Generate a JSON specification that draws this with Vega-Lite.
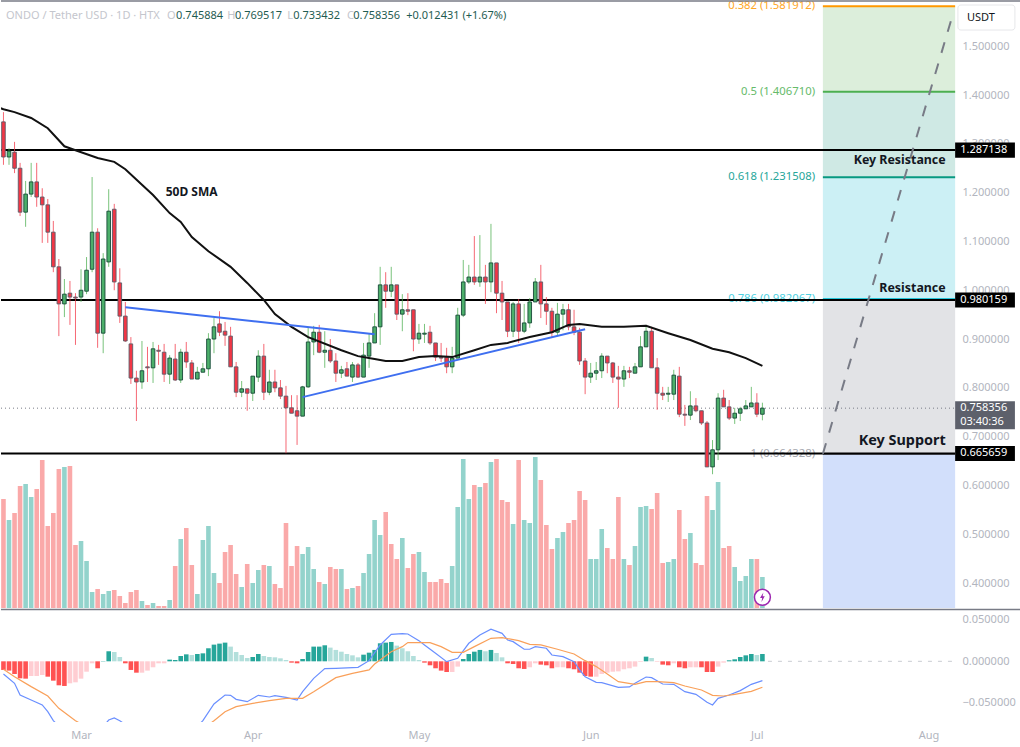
{
  "$schema": "https://vega.github.io/schema/vega-lite/v6.json",
  "background": "white",
  "padding": 0,
  "spacing": 0,
  "resolve": {"scale": {"color": "independent", "stroke": "independent"}},
  "datasets": {
    "days": [
      {"d":"2025-02-15","o":1.345,"h":1.365,"l":1.257,"c":1.273,"dir":"down","v":109,"vd":"down","m":-0.0104,"mc":"d1"},
      {"d":"2025-02-16","o":1.273,"h":1.291,"l":1.257,"c":1.285,"dir":"up","v":88,"vd":"up","m":-0.0112,"mc":"d1"},
      {"d":"2025-02-17","o":1.283,"h":1.304,"l":1.240,"c":1.250,"dir":"down","v":95,"vd":"down","m":-0.0153,"mc":"d1"},
      {"d":"2025-02-18","o":1.250,"h":1.261,"l":1.152,"c":1.160,"dir":"down","v":122,"vd":"down","m":-0.0205,"mc":"d1"},
      {"d":"2025-02-19","o":1.160,"h":1.224,"l":1.130,"c":1.197,"dir":"up","v":124,"vd":"up","m":-0.0209,"mc":"d1"},
      {"d":"2025-02-20","o":1.197,"h":1.261,"l":1.191,"c":1.222,"dir":"up","v":111,"vd":"up","m":-0.0177,"mc":"d2"},
      {"d":"2025-02-21","o":1.222,"h":1.261,"l":1.171,"c":1.191,"dir":"down","v":119,"vd":"down","m":-0.0177,"mc":"d2"},
      {"d":"2025-02-22","o":1.191,"h":1.209,"l":1.097,"c":1.175,"dir":"down","v":148,"vd":"down","m":-0.0165,"mc":"d2"},
      {"d":"2025-02-23","o":1.175,"h":1.187,"l":1.097,"c":1.119,"dir":"down","v":82,"vd":"down","m":-0.0185,"mc":"d1"},
      {"d":"2025-02-24","o":1.119,"h":1.142,"l":1.037,"c":1.048,"dir":"down","v":95,"vd":"down","m":-0.0233,"mc":"d1"},
      {"d":"2025-02-25","o":1.048,"h":1.064,"l":0.906,"c":0.972,"dir":"down","v":139,"vd":"down","m":-0.0289,"mc":"d1"},
      {"d":"2025-02-26","o":0.972,"h":1.023,"l":0.945,"c":0.992,"dir":"up","v":141,"vd":"up","m":-0.0297,"mc":"d1"},
      {"d":"2025-02-27","o":0.994,"h":1.019,"l":0.929,"c":0.986,"dir":"down","v":142,"vd":"down","m":-0.0265,"mc":"d2"},
      {"d":"2025-02-28","o":0.986,"h":0.994,"l":0.888,"c":0.984,"dir":"down","v":63,"vd":"down","m":-0.0253,"mc":"d2"},
      {"d":"2025-03-01","o":0.986,"h":1.043,"l":0.976,"c":1.000,"dir":"up","v":67,"vd":"up","m":-0.0209,"mc":"d2"},
      {"d":"2025-03-02","o":0.998,"h":1.068,"l":0.992,"c":1.041,"dir":"up","v":47,"vd":"up","m":-0.0125,"mc":"d2"},
      {"d":"2025-03-03","o":1.043,"h":1.232,"l":1.037,"c":1.119,"dir":"up","v":16,"vd":"up","m":-0.0024,"mc":"d2"},
      {"d":"2025-03-04","o":1.119,"h":1.127,"l":0.882,"c":0.912,"dir":"down","v":19,"vd":"down","m":-0.0084,"mc":"d1"},
      {"d":"2025-03-05","o":0.912,"h":1.076,"l":0.871,"c":1.064,"dir":"up","v":14,"vd":"up","m":0.0004,"mc":"u1"},
      {"d":"2025-03-06","o":1.058,"h":1.207,"l":1.048,"c":1.162,"dir":"up","v":17,"vd":"up","m":0.0121,"mc":"u1"},
      {"d":"2025-03-07","o":1.166,"h":1.177,"l":1.000,"c":1.017,"dir":"down","v":18,"vd":"down","m":0.0112,"mc":"u2"},
      {"d":"2025-03-08","o":1.015,"h":1.045,"l":0.933,"c":0.947,"dir":"down","v":12,"vd":"down","m":0.0052,"mc":"u2"},
      {"d":"2025-03-09","o":0.947,"h":0.976,"l":0.894,"c":0.896,"dir":"down","v":5,"vd":"down","m":-0.0024,"mc":"d1"},
      {"d":"2025-03-10","o":0.890,"h":0.904,"l":0.808,"c":0.820,"dir":"down","v":16,"vd":"down","m":-0.0104,"mc":"d1"},
      {"d":"2025-03-11","o":0.820,"h":0.835,"l":0.732,"c":0.812,"dir":"down","v":18,"vd":"down","m":-0.0137,"mc":"d1"},
      {"d":"2025-03-12","o":0.812,"h":0.896,"l":0.798,"c":0.835,"dir":"up","v":7,"vd":"up","m":-0.0137,"mc":"d2"},
      {"d":"2025-03-13","o":0.843,"h":0.884,"l":0.812,"c":0.841,"dir":"down","v":3,"vd":"down","m":-0.0112,"mc":"d2"},
      {"d":"2025-03-14","o":0.841,"h":0.894,"l":0.810,"c":0.880,"dir":"up","v":5,"vd":"up","m":-0.0072,"mc":"d2"},
      {"d":"2025-03-15","o":0.877,"h":0.888,"l":0.847,"c":0.875,"dir":"down","v":2,"vd":"down","m":-0.0024,"mc":"d2"},
      {"d":"2025-03-16","o":0.873,"h":0.890,"l":0.812,"c":0.828,"dir":"down","v":2,"vd":"down","m":-0.0024,"mc":"d2"},
      {"d":"2025-03-17","o":0.828,"h":0.867,"l":0.808,"c":0.861,"dir":"up","v":8,"vd":"up","m":0.0020,"mc":"u1"},
      {"d":"2025-03-18","o":0.859,"h":0.890,"l":0.814,"c":0.816,"dir":"down","v":42,"vd":"down","m":0.0016,"mc":"u1"},
      {"d":"2025-03-19","o":0.816,"h":0.880,"l":0.810,"c":0.873,"dir":"up","v":69,"vd":"up","m":0.0064,"mc":"u1"},
      {"d":"2025-03-20","o":0.873,"h":0.894,"l":0.841,"c":0.853,"dir":"down","v":80,"vd":"down","m":0.0084,"mc":"u1"},
      {"d":"2025-03-21","o":0.851,"h":0.857,"l":0.818,"c":0.818,"dir":"down","v":43,"vd":"down","m":0.0076,"mc":"u2"},
      {"d":"2025-03-22","o":0.818,"h":0.843,"l":0.818,"c":0.832,"dir":"up","v":14,"vd":"up","m":0.0088,"mc":"u1"},
      {"d":"2025-03-23","o":0.832,"h":0.851,"l":0.832,"c":0.839,"dir":"up","v":68,"vd":"up","m":0.0096,"mc":"u1"},
      {"d":"2025-03-24","o":0.839,"h":0.912,"l":0.824,"c":0.900,"dir":"up","v":82,"vd":"up","m":0.0157,"mc":"u1"},
      {"d":"2025-03-25","o":0.900,"h":0.943,"l":0.871,"c":0.925,"dir":"up","v":35,"vd":"up","m":0.0201,"mc":"u1"},
      {"d":"2025-03-26","o":0.931,"h":0.957,"l":0.906,"c":0.914,"dir":"down","v":25,"vd":"down","m":0.0213,"mc":"u1"},
      {"d":"2025-03-27","o":0.916,"h":0.935,"l":0.886,"c":0.908,"dir":"down","v":56,"vd":"down","m":0.0225,"mc":"u1"},
      {"d":"2025-03-28","o":0.906,"h":0.925,"l":0.843,"c":0.843,"dir":"down","v":63,"vd":"down","m":0.0177,"mc":"u2"},
      {"d":"2025-03-29","o":0.843,"h":0.853,"l":0.781,"c":0.791,"dir":"down","v":34,"vd":"down","m":0.0112,"mc":"u2"},
      {"d":"2025-03-30","o":0.791,"h":0.814,"l":0.781,"c":0.798,"dir":"up","v":21,"vd":"up","m":0.0076,"mc":"u2"},
      {"d":"2025-03-31","o":0.798,"h":0.798,"l":0.753,"c":0.789,"dir":"down","v":44,"vd":"down","m":0.0040,"mc":"u2"},
      {"d":"2025-04-01","o":0.789,"h":0.824,"l":0.773,"c":0.824,"dir":"up","v":25,"vd":"up","m":0.0052,"mc":"u1"},
      {"d":"2025-04-02","o":0.822,"h":0.877,"l":0.812,"c":0.865,"dir":"up","v":38,"vd":"up","m":0.0088,"mc":"u1"},
      {"d":"2025-04-03","o":0.865,"h":0.890,"l":0.775,"c":0.791,"dir":"down","v":43,"vd":"down","m":0.0064,"mc":"u2"},
      {"d":"2025-04-04","o":0.791,"h":0.837,"l":0.785,"c":0.812,"dir":"up","v":42,"vd":"up","m":0.0052,"mc":"u2"},
      {"d":"2025-04-05","o":0.812,"h":0.837,"l":0.791,"c":0.800,"dir":"down","v":24,"vd":"down","m":0.0048,"mc":"u2"},
      {"d":"2025-04-06","o":0.800,"h":0.816,"l":0.777,"c":0.783,"dir":"down","v":20,"vd":"down","m":0.0036,"mc":"u2"},
      {"d":"2025-04-07","o":0.783,"h":0.804,"l":0.666,"c":0.759,"dir":"down","v":85,"vd":"down","m":0.0016,"mc":"u2"},
      {"d":"2025-04-08","o":0.759,"h":0.785,"l":0.748,"c":0.748,"dir":"down","v":42,"vd":"down","m":-0.0016,"mc":"d1"},
      {"d":"2025-04-09","o":0.753,"h":0.785,"l":0.683,"c":0.742,"dir":"down","v":62,"vd":"down","m":-0.0024,"mc":"d1"},
      {"d":"2025-04-10","o":0.742,"h":0.804,"l":0.742,"c":0.802,"dir":"up","v":54,"vd":"up","m":0.0028,"mc":"u1"},
      {"d":"2025-04-11","o":0.802,"h":0.923,"l":0.800,"c":0.894,"dir":"up","v":61,"vd":"up","m":0.0112,"mc":"u1"},
      {"d":"2025-04-12","o":0.894,"h":0.927,"l":0.867,"c":0.914,"dir":"up","v":39,"vd":"up","m":0.0177,"mc":"u1"},
      {"d":"2025-04-13","o":0.914,"h":0.929,"l":0.871,"c":0.873,"dir":"down","v":26,"vd":"down","m":0.0177,"mc":"u1"},
      {"d":"2025-04-14","o":0.873,"h":0.916,"l":0.841,"c":0.877,"dir":"up","v":24,"vd":"up","m":0.0193,"mc":"u1"},
      {"d":"2025-04-15","o":0.877,"h":0.900,"l":0.851,"c":0.855,"dir":"down","v":41,"vd":"down","m":0.0165,"mc":"u2"},
      {"d":"2025-04-16","o":0.855,"h":0.871,"l":0.812,"c":0.830,"dir":"down","v":39,"vd":"down","m":0.0137,"mc":"u2"},
      {"d":"2025-04-17","o":0.830,"h":0.845,"l":0.820,"c":0.837,"dir":"up","v":39,"vd":"up","m":0.0116,"mc":"u2"},
      {"d":"2025-04-18","o":0.839,"h":0.853,"l":0.824,"c":0.824,"dir":"down","v":19,"vd":"down","m":0.0088,"mc":"u2"},
      {"d":"2025-04-19","o":0.822,"h":0.853,"l":0.812,"c":0.847,"dir":"up","v":20,"vd":"up","m":0.0072,"mc":"u2"},
      {"d":"2025-04-20","o":0.847,"h":0.851,"l":0.820,"c":0.822,"dir":"down","v":22,"vd":"down","m":0.0048,"mc":"u2"},
      {"d":"2025-04-21","o":0.822,"h":0.892,"l":0.822,"c":0.867,"dir":"up","v":35,"vd":"up","m":0.0080,"mc":"u1"},
      {"d":"2025-04-22","o":0.865,"h":0.912,"l":0.841,"c":0.892,"dir":"up","v":54,"vd":"up","m":0.0104,"mc":"u1"},
      {"d":"2025-04-23","o":0.892,"h":0.953,"l":0.892,"c":0.925,"dir":"up","v":88,"vd":"up","m":0.0137,"mc":"u1"},
      {"d":"2025-04-24","o":0.925,"h":1.048,"l":0.888,"c":1.011,"dir":"up","v":73,"vd":"up","m":0.0217,"mc":"u1"},
      {"d":"2025-04-25","o":1.011,"h":1.037,"l":0.964,"c":0.998,"dir":"down","v":96,"vd":"down","m":0.0225,"mc":"u1"},
      {"d":"2025-04-26","o":0.998,"h":1.048,"l":0.986,"c":1.011,"dir":"up","v":64,"vd":"down","m":0.0233,"mc":"u1"},
      {"d":"2025-04-27","o":1.011,"h":1.011,"l":0.939,"c":0.951,"dir":"down","v":49,"vd":"down","m":0.0189,"mc":"u2"},
      {"d":"2025-04-28","o":0.951,"h":0.992,"l":0.916,"c":0.960,"dir":"up","v":70,"vd":"up","m":0.0157,"mc":"u2"},
      {"d":"2025-04-29","o":0.960,"h":0.994,"l":0.949,"c":0.957,"dir":"down","v":40,"vd":"down","m":0.0121,"mc":"u2"},
      {"d":"2025-04-30","o":0.960,"h":0.960,"l":0.875,"c":0.900,"dir":"down","v":54,"vd":"down","m":0.0064,"mc":"u2"},
      {"d":"2025-05-01","o":0.900,"h":0.931,"l":0.890,"c":0.912,"dir":"up","v":56,"vd":"up","m":0.0016,"mc":"u2"},
      {"d":"2025-05-02","o":0.910,"h":0.931,"l":0.892,"c":0.912,"dir":"up","v":36,"vd":"up","m":-0.0016,"mc":"d1"},
      {"d":"2025-05-03","o":0.914,"h":0.927,"l":0.888,"c":0.892,"dir":"down","v":26,"vd":"down","m":-0.0048,"mc":"d1"},
      {"d":"2025-05-04","o":0.892,"h":0.892,"l":0.855,"c":0.863,"dir":"down","v":26,"vd":"down","m":-0.0084,"mc":"d1"},
      {"d":"2025-05-05","o":0.863,"h":0.892,"l":0.853,"c":0.861,"dir":"down","v":29,"vd":"down","m":-0.0112,"mc":"d1"},
      {"d":"2025-05-06","o":0.863,"h":0.882,"l":0.830,"c":0.843,"dir":"down","v":25,"vd":"down","m":-0.0129,"mc":"d1"},
      {"d":"2025-05-07","o":0.843,"h":0.884,"l":0.830,"c":0.861,"dir":"up","v":42,"vd":"up","m":-0.0129,"mc":"d2"},
      {"d":"2025-05-08","o":0.861,"h":0.964,"l":0.861,"c":0.949,"dir":"up","v":101,"vd":"up","m":-0.0064,"mc":"d2"},
      {"d":"2025-05-09","o":0.949,"h":1.062,"l":0.945,"c":1.017,"dir":"up","v":149,"vd":"up","m":0.0028,"mc":"u1"},
      {"d":"2025-05-10","o":1.017,"h":1.052,"l":1.013,"c":1.027,"dir":"up","v":109,"vd":"up","m":0.0088,"mc":"u1"},
      {"d":"2025-05-11","o":1.027,"h":1.111,"l":1.011,"c":1.017,"dir":"down","v":123,"vd":"down","m":0.0116,"mc":"u1"},
      {"d":"2025-05-12","o":1.017,"h":1.113,"l":1.007,"c":1.027,"dir":"up","v":121,"vd":"up","m":0.0137,"mc":"u1"},
      {"d":"2025-05-13","o":1.027,"h":1.052,"l":0.972,"c":1.017,"dir":"down","v":125,"vd":"down","m":0.0121,"mc":"u2"},
      {"d":"2025-05-14","o":1.017,"h":1.136,"l":0.996,"c":1.056,"dir":"up","v":146,"vd":"up","m":0.0137,"mc":"u1"},
      {"d":"2025-05-15","o":1.056,"h":1.056,"l":0.953,"c":0.994,"dir":"down","v":149,"vd":"down","m":0.0100,"mc":"u2"},
      {"d":"2025-05-16","o":0.994,"h":1.019,"l":0.939,"c":0.976,"dir":"down","v":108,"vd":"down","m":0.0048,"mc":"u2"},
      {"d":"2025-05-17","o":0.976,"h":0.976,"l":0.904,"c":0.916,"dir":"down","v":106,"vd":"down","m":-0.0024,"mc":"d1"},
      {"d":"2025-05-18","o":0.916,"h":0.976,"l":0.904,"c":0.972,"dir":"up","v":84,"vd":"up","m":-0.0032,"mc":"d1"},
      {"d":"2025-05-19","o":0.972,"h":0.982,"l":0.892,"c":0.916,"dir":"down","v":148,"vd":"down","m":-0.0084,"mc":"d1"},
      {"d":"2025-05-20","o":0.916,"h":0.972,"l":0.912,"c":0.933,"dir":"up","v":88,"vd":"up","m":-0.0092,"mc":"d1"},
      {"d":"2025-05-21","o":0.933,"h":0.984,"l":0.923,"c":0.976,"dir":"up","v":85,"vd":"up","m":-0.0072,"mc":"d2"},
      {"d":"2025-05-22","o":0.976,"h":1.025,"l":0.976,"c":1.017,"dir":"up","v":151,"vd":"up","m":-0.0024,"mc":"d2"},
      {"d":"2025-05-23","o":1.017,"h":1.052,"l":0.943,"c":0.972,"dir":"down","v":128,"vd":"down","m":-0.0040,"mc":"d1"},
      {"d":"2025-05-24","o":0.972,"h":0.986,"l":0.929,"c":0.957,"dir":"down","v":83,"vd":"down","m":-0.0048,"mc":"d1"},
      {"d":"2025-05-25","o":0.957,"h":0.964,"l":0.902,"c":0.914,"dir":"down","v":59,"vd":"down","m":-0.0084,"mc":"d1"},
      {"d":"2025-05-26","o":0.914,"h":0.974,"l":0.908,"c":0.951,"dir":"up","v":70,"vd":"up","m":-0.0072,"mc":"d2"},
      {"d":"2025-05-27","o":0.951,"h":0.972,"l":0.918,"c":0.960,"dir":"up","v":76,"vd":"up","m":-0.0072,"mc":"d2"},
      {"d":"2025-05-28","o":0.960,"h":0.972,"l":0.918,"c":0.925,"dir":"down","v":85,"vd":"down","m":-0.0084,"mc":"d1"},
      {"d":"2025-05-29","o":0.925,"h":0.960,"l":0.908,"c":0.914,"dir":"down","v":88,"vd":"down","m":-0.0096,"mc":"d1"},
      {"d":"2025-05-30","o":0.914,"h":0.923,"l":0.847,"c":0.855,"dir":"down","v":117,"vd":"down","m":-0.0137,"mc":"d1"},
      {"d":"2025-05-31","o":0.855,"h":0.861,"l":0.787,"c":0.822,"dir":"down","v":108,"vd":"down","m":-0.0177,"mc":"d1"},
      {"d":"2025-06-01","o":0.822,"h":0.851,"l":0.810,"c":0.830,"dir":"up","v":49,"vd":"up","m":-0.0185,"mc":"d1"},
      {"d":"2025-06-02","o":0.830,"h":0.853,"l":0.816,"c":0.835,"dir":"up","v":49,"vd":"up","m":-0.0185,"mc":"d2"},
      {"d":"2025-06-03","o":0.835,"h":0.871,"l":0.820,"c":0.865,"dir":"up","v":79,"vd":"up","m":-0.0153,"mc":"d2"},
      {"d":"2025-06-04","o":0.865,"h":0.865,"l":0.830,"c":0.851,"dir":"down","v":60,"vd":"down","m":-0.0137,"mc":"d2"},
      {"d":"2025-06-05","o":0.851,"h":0.853,"l":0.810,"c":0.822,"dir":"down","v":49,"vd":"down","m":-0.0125,"mc":"d2"},
      {"d":"2025-06-06","o":0.822,"h":0.845,"l":0.759,"c":0.818,"dir":"down","v":111,"vd":"down","m":-0.0121,"mc":"d2"},
      {"d":"2025-06-07","o":0.818,"h":0.845,"l":0.802,"c":0.835,"dir":"up","v":49,"vd":"up","m":-0.0096,"mc":"d2"},
      {"d":"2025-06-08","o":0.835,"h":0.843,"l":0.820,"c":0.832,"dir":"down","v":43,"vd":"down","m":-0.0084,"mc":"d2"},
      {"d":"2025-06-09","o":0.830,"h":0.851,"l":0.830,"c":0.843,"dir":"up","v":62,"vd":"up","m":-0.0064,"mc":"d2"},
      {"d":"2025-06-10","o":0.843,"h":0.906,"l":0.843,"c":0.884,"dir":"up","v":101,"vd":"up","m":-0.0008,"mc":"d2"},
      {"d":"2025-06-11","o":0.884,"h":0.929,"l":0.884,"c":0.916,"dir":"up","v":102,"vd":"up","m":0.0056,"mc":"u1"},
      {"d":"2025-06-12","o":0.916,"h":0.925,"l":0.841,"c":0.841,"dir":"down","v":99,"vd":"down","m":0.0040,"mc":"u2"},
      {"d":"2025-06-13","o":0.841,"h":0.861,"l":0.755,"c":0.789,"dir":"down","v":115,"vd":"down","m":-0.0008,"mc":"d2"},
      {"d":"2025-06-14","o":0.789,"h":0.802,"l":0.775,"c":0.785,"dir":"down","v":45,"vd":"down","m":-0.0040,"mc":"d1"},
      {"d":"2025-06-15","o":0.787,"h":0.802,"l":0.771,"c":0.789,"dir":"up","v":46,"vd":"up","m":-0.0048,"mc":"d1"},
      {"d":"2025-06-16","o":0.787,"h":0.837,"l":0.775,"c":0.826,"dir":"up","v":49,"vd":"up","m":-0.0024,"mc":"d2"},
      {"d":"2025-06-17","o":0.824,"h":0.843,"l":0.740,"c":0.746,"dir":"down","v":98,"vd":"down","m":-0.0072,"mc":"d1"},
      {"d":"2025-06-18","o":0.746,"h":0.765,"l":0.722,"c":0.744,"dir":"down","v":69,"vd":"down","m":-0.0084,"mc":"d1"},
      {"d":"2025-06-19","o":0.744,"h":0.793,"l":0.734,"c":0.763,"dir":"up","v":75,"vd":"up","m":-0.0072,"mc":"d2"},
      {"d":"2025-06-20","o":0.763,"h":0.779,"l":0.750,"c":0.753,"dir":"down","v":45,"vd":"down","m":-0.0072,"mc":"d2"},
      {"d":"2025-06-21","o":0.753,"h":0.753,"l":0.724,"c":0.728,"dir":"down","v":43,"vd":"down","m":-0.0072,"mc":"d1"},
      {"d":"2025-06-22","o":0.728,"h":0.732,"l":0.638,"c":0.638,"dir":"down","v":112,"vd":"down","m":-0.0129,"mc":"d1"},
      {"d":"2025-06-23","o":0.638,"h":0.693,"l":0.623,"c":0.673,"dir":"up","v":98,"vd":"up","m":-0.0129,"mc":"d1"},
      {"d":"2025-06-24","o":0.673,"h":0.789,"l":0.652,"c":0.779,"dir":"up","v":126,"vd":"up","m":-0.0064,"mc":"d2"},
      {"d":"2025-06-25","o":0.779,"h":0.796,"l":0.761,"c":0.761,"dir":"down","v":60,"vd":"down","m":-0.0016,"mc":"d2"},
      {"d":"2025-06-26","o":0.761,"h":0.775,"l":0.734,"c":0.738,"dir":"down","v":62,"vd":"down","m":0.0012,"mc":"u1"},
      {"d":"2025-06-27","o":0.738,"h":0.759,"l":0.726,"c":0.748,"dir":"up","v":41,"vd":"up","m":0.0024,"mc":"u1"},
      {"d":"2025-06-28","o":0.748,"h":0.761,"l":0.732,"c":0.757,"dir":"up","v":27,"vd":"up","m":0.0052,"mc":"u1"},
      {"d":"2025-06-29","o":0.757,"h":0.775,"l":0.757,"c":0.763,"dir":"up","v":32,"vd":"up","m":0.0072,"mc":"u1"},
      {"d":"2025-06-30","o":0.761,"h":0.802,"l":0.761,"c":0.769,"dir":"up","v":49,"vd":"up","m":0.0088,"mc":"u1"},
      {"d":"2025-07-01","o":0.769,"h":0.789,"l":0.740,"c":0.746,"dir":"down","v":49,"vd":"down","m":0.0076,"mc":"u2"},
      {"d":"2025-07-02","o":0.745884,"h":0.769517,"l":0.733432,"c":0.758356,"dir":"up","v":31,"vd":"up","m":0.0088,"mc":"u1"}
    ],
    "sma": [
      {"d":"2025-02-14","p":1.375},{"d":"2025-02-15","p":1.371},{"d":"2025-02-17","p":1.365},{"d":"2025-02-20","p":1.353},
      {"d":"2025-02-23","p":1.332},{"d":"2025-02-26","p":1.295},{"d":"2025-02-28","p":1.287},{"d":"2025-03-04","p":1.271},
      {"d":"2025-03-07","p":1.263},{"d":"2025-03-09","p":1.248},{"d":"2025-03-12","p":1.216},{"d":"2025-03-14","p":1.195},
      {"d":"2025-03-17","p":1.158},{"d":"2025-03-19","p":1.140},{"d":"2025-03-21","p":1.109},{"d":"2025-03-24","p":1.080},
      {"d":"2025-03-28","p":1.048},{"d":"2025-03-31","p":1.015},{"d":"2025-04-03","p":0.980},{"d":"2025-04-05","p":0.951},
      {"d":"2025-04-08","p":0.925},{"d":"2025-04-11","p":0.904},{"d":"2025-04-17","p":0.877},{"d":"2025-04-20","p":0.865},
      {"d":"2025-04-23","p":0.859},{"d":"2025-04-25","p":0.855},{"d":"2025-04-28","p":0.855},{"d":"2025-05-01","p":0.863},
      {"d":"2025-05-04","p":0.865},{"d":"2025-05-07","p":0.863},{"d":"2025-05-11","p":0.877},{"d":"2025-05-14","p":0.888},
      {"d":"2025-05-17","p":0.892},{"d":"2025-05-21","p":0.904},{"d":"2025-05-25","p":0.914},{"d":"2025-05-28","p":0.929},
      {"d":"2025-05-30","p":0.931},{"d":"2025-06-03","p":0.925},{"d":"2025-06-07","p":0.925},{"d":"2025-06-11","p":0.927},
      {"d":"2025-06-15","p":0.912},{"d":"2025-06-19","p":0.898},{"d":"2025-06-23","p":0.880},{"d":"2025-06-26","p":0.873},
      {"d":"2025-06-29","p":0.861},{"d":"2025-07-02","p":0.845}
    ],
    "macdLines": [
      {"s":"MACD","d":"2025-02-15","m":-0.0153},{"s":"MACD","d":"2025-02-17","m":-0.0265},{"s":"MACD","d":"2025-02-18","m":-0.0406},{"s":"MACD","d":"2025-02-20","m":-0.0466},
      {"s":"MACD","d":"2025-02-22","m":-0.0526},{"s":"MACD","d":"2025-02-23","m":-0.0607},{"s":"MACD","d":"2025-02-24","m":-0.0715},{"s":"MACD","d":"2025-02-27","m":-0.0908},
      {"s":"MACD","d":"2025-03-02","m":-0.0948},{"s":"MACD","d":"2025-03-05","m":-0.0787},{"s":"MACD","d":"2025-03-06","m":-0.0707},{"s":"MACD","d":"2025-03-07","m":-0.0683},
      {"s":"MACD","d":"2025-03-08","m":-0.0715},{"s":"MACD","d":"2025-03-13","m":-0.0948},{"s":"MACD","d":"2025-03-19","m":-0.0988},{"s":"MACD","d":"2025-03-23","m":-0.0715},
      {"s":"MACD","d":"2025-03-25","m":-0.0514},{"s":"MACD","d":"2025-03-27","m":-0.0406},{"s":"MACD","d":"2025-03-28","m":-0.0410},{"s":"MACD","d":"2025-03-29","m":-0.0458},
      {"s":"MACD","d":"2025-03-31","m":-0.0486},{"s":"MACD","d":"2025-04-02","m":-0.0410},{"s":"MACD","d":"2025-04-04","m":-0.0430},{"s":"MACD","d":"2025-04-05","m":-0.0414},
      {"s":"MACD","d":"2025-04-07","m":-0.0434},{"s":"MACD","d":"2025-04-09","m":-0.0466},{"s":"MACD","d":"2025-04-10","m":-0.0366},{"s":"MACD","d":"2025-04-12","m":-0.0205},
      {"s":"MACD","d":"2025-04-14","m":-0.0088},{"s":"MACD","d":"2025-04-16","m":-0.0084},{"s":"MACD","d":"2025-04-20","m":-0.0072},{"s":"MACD","d":"2025-04-22","m":0.0008},
      {"s":"MACD","d":"2025-04-24","m":0.0197},{"s":"MACD","d":"2025-04-26","m":0.0325},{"s":"MACD","d":"2025-04-28","m":0.0333},{"s":"MACD","d":"2025-04-29","m":0.0329},
      {"s":"MACD","d":"2025-05-01","m":0.0249},{"s":"MACD","d":"2025-05-02","m":0.0197},{"s":"MACD","d":"2025-05-04","m":0.0096},{"s":"MACD","d":"2025-05-06","m":-0.0004},
      {"s":"MACD","d":"2025-05-08","m":0.0036},{"s":"MACD","d":"2025-05-10","m":0.0217},{"s":"MACD","d":"2025-05-12","m":0.0317},{"s":"MACD","d":"2025-05-14","m":0.0386},
      {"s":"MACD","d":"2025-05-16","m":0.0337},{"s":"MACD","d":"2025-05-17","m":0.0257},{"s":"MACD","d":"2025-05-18","m":0.0237},{"s":"MACD","d":"2025-05-20","m":0.0145},
      {"s":"MACD","d":"2025-05-21","m":0.0145},{"s":"MACD","d":"2025-05-22","m":0.0177},{"s":"MACD","d":"2025-05-24","m":0.0157},{"s":"MACD","d":"2025-05-25","m":0.0076},
      {"s":"MACD","d":"2025-05-27","m":0.0056},{"s":"MACD","d":"2025-05-29","m":-0.0004},{"s":"MACD","d":"2025-05-30","m":-0.0104},{"s":"MACD","d":"2025-05-31","m":-0.0185},
      {"s":"MACD","d":"2025-06-02","m":-0.0253},{"s":"MACD","d":"2025-06-03","m":-0.0257},{"s":"MACD","d":"2025-06-06","m":-0.0313},{"s":"MACD","d":"2025-06-08","m":-0.0309},
      {"s":"MACD","d":"2025-06-09","m":-0.0265},{"s":"MACD","d":"2025-06-11","m":-0.0189},{"s":"MACD","d":"2025-06-12","m":-0.0197},{"s":"MACD","d":"2025-06-14","m":-0.0273},
      {"s":"MACD","d":"2025-06-16","m":-0.0277},{"s":"MACD","d":"2025-06-18","m":-0.0366},{"s":"MACD","d":"2025-06-20","m":-0.0398},{"s":"MACD","d":"2025-06-22","m":-0.0494},
      {"s":"MACD","d":"2025-06-23","m":-0.0526},{"s":"MACD","d":"2025-06-24","m":-0.0446},{"s":"MACD","d":"2025-06-26","m":-0.0406},{"s":"MACD","d":"2025-06-28","m":-0.0353},
      {"s":"MACD","d":"2025-06-30","m":-0.0277},{"s":"MACD","d":"2025-07-02","m":-0.0233},
      {"s":"Signal","d":"2025-02-15","m":-0.0096},{"s":"Signal","d":"2025-02-17","m":-0.0185},{"s":"Signal","d":"2025-02-20","m":-0.0305},{"s":"Signal","d":"2025-02-23","m":-0.0418},
      {"s":"Signal","d":"2025-02-25","m":-0.0566},{"s":"Signal","d":"2025-02-28","m":-0.0715},{"s":"Signal","d":"2025-03-07","m":-0.0988},{"s":"Signal","d":"2025-03-15","m":-0.1069},
      {"s":"Signal","d":"2025-03-22","m":-0.0868},{"s":"Signal","d":"2025-03-25","m":-0.0715},{"s":"Signal","d":"2025-03-27","m":-0.0607},{"s":"Signal","d":"2025-03-29","m":-0.0546},
      {"s":"Signal","d":"2025-04-01","m":-0.0506},{"s":"Signal","d":"2025-04-04","m":-0.0474},{"s":"Signal","d":"2025-04-07","m":-0.0446},{"s":"Signal","d":"2025-04-10","m":-0.0446},
      {"s":"Signal","d":"2025-04-12","m":-0.0366},{"s":"Signal","d":"2025-04-16","m":-0.0197},{"s":"Signal","d":"2025-04-19","m":-0.0145},{"s":"Signal","d":"2025-04-22","m":-0.0104},
      {"s":"Signal","d":"2025-04-23","m":-0.0032},{"s":"Signal","d":"2025-04-26","m":0.0116},{"s":"Signal","d":"2025-04-28","m":0.0177},{"s":"Signal","d":"2025-04-29","m":0.0225},
      {"s":"Signal","d":"2025-05-03","m":0.0225},{"s":"Signal","d":"2025-05-05","m":0.0177},{"s":"Signal","d":"2025-05-07","m":0.0108},{"s":"Signal","d":"2025-05-09","m":0.0108},
      {"s":"Signal","d":"2025-05-11","m":0.0177},{"s":"Signal","d":"2025-05-14","m":0.0277},{"s":"Signal","d":"2025-05-16","m":0.0285},{"s":"Signal","d":"2025-05-19","m":0.0249},
      {"s":"Signal","d":"2025-05-21","m":0.0205},{"s":"Signal","d":"2025-05-23","m":0.0197},{"s":"Signal","d":"2025-05-26","m":0.0145},{"s":"Signal","d":"2025-05-29","m":0.0088},
      {"s":"Signal","d":"2025-05-31","m":0.0008},{"s":"Signal","d":"2025-06-02","m":-0.0064},{"s":"Signal","d":"2025-06-04","m":-0.0153},{"s":"Signal","d":"2025-06-06","m":-0.0245},
      {"s":"Signal","d":"2025-06-09","m":-0.0277},{"s":"Signal","d":"2025-06-11","m":-0.0245},{"s":"Signal","d":"2025-06-13","m":-0.0245},{"s":"Signal","d":"2025-06-16","m":-0.0257},
      {"s":"Signal","d":"2025-06-18","m":-0.0297},{"s":"Signal","d":"2025-06-21","m":-0.0345},{"s":"Signal","d":"2025-06-23","m":-0.0410},{"s":"Signal","d":"2025-06-25","m":-0.0418},
      {"s":"Signal","d":"2025-06-27","m":-0.0398},{"s":"Signal","d":"2025-06-30","m":-0.0362},{"s":"Signal","d":"2025-07-02","m":-0.0313}
    ]
  },
  "vconcat": [
    {
      "width": 1020,
      "height": 610,
      "resolve": {"scale": {"y": "independent", "color": "independent"}, "axis": {"y": "independent"}},
      "layer": [
        {
          "data": {"name": "days"},
          "mark": {"type": "bar", "size": 4.6},
          "encoding": {
            "x": {"field": "d", "type": "temporal", "axis": null, "scale": {"type": "utc", "domain": ["2025-02-14T13:20:00Z", "2025-08-17T16:20:00Z"]}},
            "y": {"field": "v", "type": "quantitative", "stack": null, "axis": null, "scale": {"domain": [-3, 607], "zero": false, "nice": false}},
            "color": {"field": "vd", "legend": null, "scale": {"domain": ["up", "down"], "range": ["#93D3CC", "#FAA9A9"]}}
          }
        },
        {
          "resolve": {"scale": {"color": "independent"}},
          "layer": [
            {
              "data": {"values": [
                {"zone": "a", "from": "2025-07-12T22:00:00Z", "to": "2025-08-05T19:00:00Z", "top": 1.581912, "bottom": 1.40671},
                {"zone": "b", "from": "2025-07-12T22:00:00Z", "to": "2025-08-05T19:00:00Z", "top": 1.40671, "bottom": 1.231508},
                {"zone": "c", "from": "2025-07-12T22:00:00Z", "to": "2025-08-05T19:00:00Z", "top": 1.231508, "bottom": 0.982067},
                {"zone": "d", "from": "2025-07-12T22:00:00Z", "to": "2025-08-05T19:00:00Z", "top": 0.982067, "bottom": 0.664328},
                {"zone": "e", "from": "2025-07-12T22:00:00Z", "to": "2025-08-05T19:00:00Z", "top": 0.664328, "bottom": 0.3488}
              ], "format": {"parse": {"from": "date", "to": "date"}}},
              "mark": "rect",
              "encoding": {
                "x": {"field": "from", "type": "temporal", "axis": null, "scale": {"type": "utc", "domain": ["2025-02-14T13:20:00Z", "2025-08-17T16:20:00Z"]}},
                "x2": {"field": "to"},
                "y": {"field": "top", "type": "quantitative", "axis": {"orient": "right", "offset": -66, "values": [0.4, 0.5, 0.6, 0.7, 0.8, 0.9, 1.0, 1.1, 1.2, 1.3, 1.4, 1.5], "format": ".6f", "title": null, "domain": false, "ticks": false, "grid": false, "labelPadding": 7, "labelFontSize": 11, "labelColor": "#B2B5BE", "minExtent": 0, "maxExtent": 60}, "scale": {"domain": [0.3427, 1.5927], "zero": false, "nice": false}},
                "y2": {"field": "bottom"},
                "color": {"field": "zone", "legend": null, "scale": {"domain": ["a", "b", "c", "d", "e"], "range": ["#DCEEDB", "#CFE9E4", "#CCF0F5", "#E2E3E6", "#D2DFFB"]}}
              }
            },
            {
              "data": {"values": [
                {"level": "0.382", "from": "2025-07-12T22:00:00Z", "to": "2025-08-05T19:00:00Z", "p": 1.581912},
                {"level": "0.5", "from": "2025-07-12T22:00:00Z", "to": "2025-08-05T19:00:00Z", "p": 1.40671},
                {"level": "0.618", "from": "2025-07-12T22:00:00Z", "to": "2025-08-05T19:00:00Z", "p": 1.231508},
                {"level": "0.786", "from": "2025-07-12T22:00:00Z", "to": "2025-08-05T19:00:00Z", "p": 0.982067},
                {"level": "1", "from": "2025-07-12T22:00:00Z", "to": "2025-08-05T19:00:00Z", "p": 0.664328}
              ], "format": {"parse": {"from": "date", "to": "date"}}},
              "mark": {"type": "rule", "strokeWidth": 2},
              "encoding": {
                "x": {"field": "from", "type": "temporal", "axis": null, "scale": {"type": "utc", "domain": ["2025-02-14T13:20:00Z", "2025-08-17T16:20:00Z"]}},
                "x2": {"field": "to"},
                "y": {"field": "p", "type": "quantitative"},
                "color": {"field": "level", "legend": null, "scale": {"domain": ["0.382", "0.5", "0.618", "0.786", "1"], "range": ["#FF9800", "#4CAF50", "#089981", "#26C6DA", "#787B86"]}}
              }
            },
            {
              "data": {"values": [
                {"level": "0.382", "at": "2025-07-11T12:00:00Z", "p": 1.581912, "label": "0.382 (1.581912)"},
                {"level": "0.5", "at": "2025-07-11T12:00:00Z", "p": 1.40671, "label": "0.5 (1.406710)"},
                {"level": "0.618", "at": "2025-07-11T12:00:00Z", "p": 1.231508, "label": "0.618 (1.231508)"},
                {"level": "0.786", "at": "2025-07-11T12:00:00Z", "p": 0.982067, "label": "0.786 (0.982067)"},
                {"level": "1", "at": "2025-07-11T12:00:00Z", "p": 0.664328, "label": "1 (0.664328)"}
              ], "format": {"parse": {"at": "date"}}},
              "mark": {"type": "text", "align": "right", "baseline": "middle", "fontSize": 11.3},
              "encoding": {
                "x": {"field": "at", "type": "temporal", "axis": null, "scale": {"type": "utc", "domain": ["2025-02-14T13:20:00Z", "2025-08-17T16:20:00Z"]}},
                "y": {"field": "p", "type": "quantitative"},
                "text": {"field": "label"},
                "color": {"field": "level", "legend": null, "scale": {"domain": ["0.382", "0.5", "0.618", "0.786", "1"], "range": ["#FFA726", "#66BB6A", "#26A69A", "#4DD0E1", "#A5A7AE"]}}
              }
            },
            {
              "data": {"values": [
                {"from": "2025-02-14T13:20:00Z", "to": "2025-08-05T19:00:00Z", "p": 1.287138},
                {"from": "2025-02-14T13:20:00Z", "to": "2025-08-05T19:00:00Z", "p": 0.980159},
                {"from": "2025-02-14T13:20:00Z", "to": "2025-08-05T19:00:00Z", "p": 0.665659}
              ], "format": {"parse": {"from": "date", "to": "date"}}},
              "mark": {"type": "rule", "color": "#000000", "strokeWidth": 2},
              "encoding": {
                "x": {"field": "from", "type": "temporal", "axis": null, "scale": {"type": "utc", "domain": ["2025-02-14T13:20:00Z", "2025-08-17T16:20:00Z"]}},
                "x2": {"field": "to"},
                "y": {"field": "p", "type": "quantitative"}
              }
            },
            {
              "data": {"values": [{"from": "2025-02-14T13:20:00Z", "to": "2025-08-05T19:00:00Z", "p": 0.758356}], "format": {"parse": {"from": "date", "to": "date"}}},
              "mark": {"type": "rule", "color": "#787B86", "strokeWidth": 1, "strokeDash": [1, 3]},
              "encoding": {
                "x": {"field": "from", "type": "temporal", "axis": null, "scale": {"type": "utc", "domain": ["2025-02-14T13:20:00Z", "2025-08-17T16:20:00Z"]}},
                "x2": {"field": "to"},
                "y": {"field": "p", "type": "quantitative"}
              }
            },
            {
              "data": {"name": "days"},
              "mark": {"type": "rule", "strokeWidth": 1, "opacity": 0.75},
              "encoding": {
                "x": {"field": "d", "type": "temporal", "axis": null, "scale": {"type": "utc", "domain": ["2025-02-14T13:20:00Z", "2025-08-17T16:20:00Z"]}},
                "y": {"field": "l", "type": "quantitative"},
                "y2": {"field": "h"},
                "color": {"field": "dir", "legend": null, "scale": {"domain": ["up", "down"], "range": ["#4CAF50", "#F23645"]}}
              }
            },
            {
              "data": {"name": "days"},
              "mark": {"type": "bar", "size": 3.6, "strokeWidth": 0.9},
              "encoding": {
                "x": {"field": "d", "type": "temporal", "axis": null, "scale": {"type": "utc", "domain": ["2025-02-14T13:20:00Z", "2025-08-17T16:20:00Z"]}},
                "y": {"field": "o", "type": "quantitative", "stack": null},
                "y2": {"field": "c"},
                "color": {"field": "dir", "legend": null, "scale": {"domain": ["up", "down"], "range": ["#4CAF6A", "#F23645"]}},
                "stroke": {"field": "dir", "legend": null, "scale": {"domain": ["up", "down"], "range": ["#174A38", "#5A5D6A"]}}
              }
            },
            {
              "data": {"name": "sma"},
              "mark": {"type": "line", "color": "#111111", "strokeWidth": 2, "clip": true},
              "encoding": {
                "x": {"field": "d", "type": "temporal", "axis": null, "scale": {"type": "utc", "domain": ["2025-02-14T13:20:00Z", "2025-08-17T16:20:00Z"]}},
                "y": {"field": "p", "type": "quantitative"}
              }
            },
            {
              "data": {"values": [
                {"line": "upper", "d": "2025-03-09", "p": 0.965},
                {"line": "upper", "d": "2025-04-23", "p": 0.910},
                {"line": "lower", "d": "2025-04-10", "p": 0.781},
                {"line": "lower", "d": "2025-05-31", "p": 0.920}
              ]},
              "mark": {"type": "line", "color": "#3F6FF0", "strokeWidth": 2},
              "encoding": {
                "x": {"field": "d", "type": "temporal", "axis": null, "scale": {"type": "utc", "domain": ["2025-02-14T13:20:00Z", "2025-08-17T16:20:00Z"]}},
                "y": {"field": "p", "type": "quantitative"},
                "detail": {"field": "line"}
              }
            },
            {
              "data": {"values": [
                {"d": "2025-07-12T22:00:00Z", "p": 0.665},
                {"d": "2025-08-05T12:00:00Z", "p": 1.57}
              ], "format": {"parse": {"d": "date"}}},
              "mark": {"type": "line", "color": "#787B86", "strokeWidth": 2, "strokeDash": [11, 11]},
              "encoding": {
                "x": {"field": "d", "type": "temporal", "axis": null, "scale": {"type": "utc", "domain": ["2025-02-14T13:20:00Z", "2025-08-17T16:20:00Z"]}},
                "y": {"field": "p", "type": "quantitative"}
              }
            },
            {
              "data": {"values": [
                {"at": "2025-02-15T11:00:00Z", "p": 1.562, "kind": "label", "t": "ONDO / Tether USD · 1D · HTX"},
                {"at": "2025-03-16T12:00:00Z", "p": 1.562, "kind": "label", "t": "O"},
                {"at": "2025-03-18T04:00:00Z", "p": 1.562, "kind": "value", "t": "0.745884"},
                {"at": "2025-03-27T10:00:00Z", "p": 1.562, "kind": "label", "t": "H"},
                {"at": "2025-03-28T19:00:00Z", "p": 1.562, "kind": "value", "t": "0.769517"},
                {"at": "2025-04-07T05:00:00Z", "p": 1.562, "kind": "label", "t": "L"},
                {"at": "2025-04-08T07:00:00Z", "p": 1.562, "kind": "value", "t": "0.733432"},
                {"at": "2025-04-18T00:00:00Z", "p": 1.562, "kind": "label", "t": "C"},
                {"at": "2025-04-19T03:00:00Z", "p": 1.562, "kind": "value", "t": "0.758356"},
                {"at": "2025-04-28T17:00:00Z", "p": 1.562, "kind": "value", "t": "+0.012431 (+1.67%)"}
              ], "format": {"parse": {"at": "date"}}},
              "mark": {"type": "text", "align": "left", "baseline": "middle", "fontSize": 11},
              "encoding": {
                "x": {"field": "at", "type": "temporal", "axis": null, "scale": {"type": "utc", "domain": ["2025-02-14T13:20:00Z", "2025-08-17T16:20:00Z"]}},
                "y": {"field": "p", "type": "quantitative"},
                "text": {"field": "t"},
                "color": {"field": "kind", "legend": null, "scale": {"domain": ["label", "value"], "range": ["#C4C6CD", "#1F5C52"]}}
              }
            },
            {
              "data": {"values": [{"at": "2025-03-16T07:00:00Z", "p": 1.2013, "t": "50D SMA"}], "format": {"parse": {"at": "date"}}},
              "mark": {"type": "text", "align": "left", "baseline": "middle", "fontSize": 12, "fontWeight": "bold", "color": "#131722"},
              "encoding": {
                "x": {"field": "at", "type": "temporal", "axis": null, "scale": {"type": "utc", "domain": ["2025-02-14T13:20:00Z", "2025-08-17T16:20:00Z"]}},
                "y": {"field": "p", "type": "quantitative"},
                "text": {"field": "t"}
              }
            },
            {
              "data": {"values": [
                {"at": "2025-08-04T02:00:00Z", "p": 1.2668, "t": "Key Resistance"},
                {"at": "2025-08-04T02:00:00Z", "p": 1.0045, "t": "Resistance"}
              ], "format": {"parse": {"at": "date"}}},
              "mark": {"type": "text", "align": "right", "baseline": "middle", "fontSize": 12.4, "fontWeight": "bold", "color": "#131722"},
              "encoding": {
                "x": {"field": "at", "type": "temporal", "axis": null, "scale": {"type": "utc", "domain": ["2025-02-14T13:20:00Z", "2025-08-17T16:20:00Z"]}},
                "y": {"field": "p", "type": "quantitative"},
                "text": {"field": "t"}
              }
            },
            {
              "data": {"values": [{"at": "2025-08-04T02:00:00Z", "p": 0.691, "t": "Key Support"}], "format": {"parse": {"at": "date"}}},
              "mark": {"type": "text", "align": "right", "baseline": "middle", "fontSize": 14.4, "fontWeight": "bold", "color": "#131722"},
              "encoding": {
                "x": {"field": "at", "type": "temporal", "axis": null, "scale": {"type": "utc", "domain": ["2025-02-14T13:20:00Z", "2025-08-17T16:20:00Z"]}},
                "y": {"field": "p", "type": "quantitative"},
                "text": {"field": "t"}
              }
            },
            {
              "data": {"values": [
                {"tag": "level", "from": "2025-08-05T19:00:00Z", "to": "2025-08-16T14:00:00Z", "top": 1.3025, "bottom": 1.2717},
                {"tag": "level", "from": "2025-08-05T19:00:00Z", "to": "2025-08-16T14:00:00Z", "top": 0.9955, "bottom": 0.9647},
                {"tag": "level", "from": "2025-08-05T19:00:00Z", "to": "2025-08-16T14:00:00Z", "top": 0.6810, "bottom": 0.6503},
                {"tag": "last", "from": "2025-08-05T19:00:00Z", "to": "2025-08-16T14:00:00Z", "top": 0.7727, "bottom": 0.7153}
              ], "format": {"parse": {"from": "date", "to": "date"}}},
              "mark": "rect",
              "encoding": {
                "x": {"field": "from", "type": "temporal", "axis": null, "scale": {"type": "utc", "domain": ["2025-02-14T13:20:00Z", "2025-08-17T16:20:00Z"]}},
                "x2": {"field": "to"},
                "y": {"field": "top", "type": "quantitative"},
                "y2": {"field": "bottom"},
                "color": {"field": "tag", "legend": null, "scale": {"domain": ["level", "last"], "range": ["#000000", "#5D606B"]}}
              }
            },
            {
              "data": {"values": [
                {"at": "2025-08-06T17:00:00Z", "p": 1.287138, "t": "1.287138"},
                {"at": "2025-08-06T17:00:00Z", "p": 0.980159, "t": "0.980159"},
                {"at": "2025-08-06T17:00:00Z", "p": 0.665659, "t": "0.665659"},
                {"at": "2025-08-06T17:00:00Z", "p": 0.7583, "t": "0.758356"},
                {"at": "2025-08-06T17:00:00Z", "p": 0.7297, "t": "03:40:36"}
              ], "format": {"parse": {"at": "date"}}},
              "mark": {"type": "text", "align": "left", "baseline": "middle", "fontSize": 11, "color": "#FFFFFF"},
              "encoding": {
                "x": {"field": "at", "type": "temporal", "axis": null, "scale": {"type": "utc", "domain": ["2025-02-14T13:20:00Z", "2025-08-17T16:20:00Z"]}},
                "y": {"field": "p", "type": "quantitative"},
                "text": {"field": "t"}
              }
            },
            {
              "data": {"values": [{"from": "2025-08-06T07:00:00Z", "to": "2025-08-16T14:00:00Z", "top": 1.5845, "bottom": 1.5332}], "format": {"parse": {"from": "date", "to": "date"}}},
              "mark": {"type": "rect", "fill": "#FFFFFF", "stroke": "#E6E7EA", "strokeWidth": 1, "cornerRadius": 3},
              "encoding": {
                "x": {"field": "from", "type": "temporal", "axis": null, "scale": {"type": "utc", "domain": ["2025-02-14T13:20:00Z", "2025-08-17T16:20:00Z"]}},
                "x2": {"field": "to"},
                "y": {"field": "top", "type": "quantitative"},
                "y2": {"field": "bottom"}
              }
            },
            {
              "data": {"values": [{"at": "2025-08-07T22:00:00Z", "p": 1.5578, "t": "USDT"}], "format": {"parse": {"at": "date"}}},
              "mark": {"type": "text", "align": "left", "baseline": "middle", "fontSize": 11, "color": "#131722"},
              "encoding": {
                "x": {"field": "at", "type": "temporal", "axis": null, "scale": {"type": "utc", "domain": ["2025-02-14T13:20:00Z", "2025-08-17T16:20:00Z"]}},
                "y": {"field": "p", "type": "quantitative"},
                "text": {"field": "t"}
              }
            },
            {
              "data": {"values": [{"d": "2025-07-02", "p": 0.3708}]},
              "mark": {"type": "point", "shape": "circle", "size": 254, "filled": false, "fill": "#FFFFFF", "fillOpacity": 1, "stroke": "#9C27B0", "strokeWidth": 1.5, "opacity": 1},
              "encoding": {
                "x": {"field": "d", "type": "temporal", "axis": null, "scale": {"type": "utc", "domain": ["2025-02-14T13:20:00Z", "2025-08-17T16:20:00Z"]}},
                "y": {"field": "p", "type": "quantitative"}
              }
            },
            {
              "data": {"values": [{"d": "2025-07-02", "p": 0.3708}]},
              "mark": {"type": "point", "shape": "M0.2,-1L-0.5,0.15L-0.05,0.15L-0.2,1L0.5,-0.2L0.05,-0.2Z", "size": 90, "filled": true, "color": "#9C27B0", "opacity": 1},
              "encoding": {
                "x": {"field": "d", "type": "temporal", "axis": null, "scale": {"type": "utc", "domain": ["2025-02-14T13:20:00Z", "2025-08-17T16:20:00Z"]}},
                "y": {"field": "p", "type": "quantitative"}
              }
            },
            {
              "data": {"values": [{"p": 1.5925, "edge": "top"}, {"p": 0.3457, "edge": "bottom"}]},
              "mark": {"type": "rule", "color": "#787B86", "strokeWidth": 1.5},
              "encoding": {
                "y": {"field": "p", "type": "quantitative"}
              }
            }
          ]
        }
      ]
    },
    {
      "width": 1020,
      "height": 111,
      "resolve": {"scale": {"color": "independent"}},
      "layer": [
        {
          "data": {"values": [{"from": "2025-07-03", "to": "2025-08-05T12:00:00Z", "m": 0}], "format": {"parse": {"from": "date", "to": "date"}}},
          "mark": {"type": "rule", "color": "#C9CBD1", "strokeWidth": 1, "strokeDash": [4, 6]},
          "encoding": {
            "x": {"field": "from", "type": "temporal", "scale": {"type": "utc", "domain": ["2025-02-14T13:20:00Z", "2025-08-17T16:20:00Z"]}, "axis": {"title": null, "labelExpr": "utcFormat(datum.value, '%b')", "tickCount": "month", "domain": false, "ticks": false, "grid": false, "labelPadding": 7, "labelFontSize": 11, "labelColor": "#B2B5BE", "labelFlush": false, "labelOverlap": false, "minExtent": 26, "maxExtent": 26}},
            "x2": {"field": "to"},
            "y": {"field": "m", "type": "quantitative", "scale": {"domain": [-0.0731, 0.0606], "zero": false, "nice": false}, "axis": {"orient": "right", "offset": -66, "values": [-0.05, 0, 0.05], "format": ".6f", "title": null, "domain": false, "ticks": false, "grid": false, "labelPadding": 7, "labelFontSize": 11, "labelColor": "#B2B5BE", "minExtent": 0, "maxExtent": 60}}
          }
        },
        {
          "data": {"name": "days"},
          "mark": {"type": "bar", "size": 4.6},
          "encoding": {
            "x": {"field": "d", "type": "temporal", "scale": {"type": "utc", "domain": ["2025-02-14T13:20:00Z", "2025-08-17T16:20:00Z"]}},
            "y": {"field": "m", "type": "quantitative", "stack": null},
            "color": {"field": "mc", "legend": null, "scale": {"domain": ["u1", "u2", "d1", "d2"], "range": ["#26A69A", "#B2DFDB", "#FF5252", "#FFCDD2"]}}
          }
        },
        {
          "data": {"name": "macdLines"},
          "mark": {"type": "line", "strokeWidth": 1.2, "clip": true},
          "encoding": {
            "x": {"field": "d", "type": "temporal", "scale": {"type": "utc", "domain": ["2025-02-14T13:20:00Z", "2025-08-17T16:20:00Z"]}},
            "y": {"field": "m", "type": "quantitative"},
            "color": {"field": "s", "legend": null, "scale": {"domain": ["MACD", "Signal"], "range": ["#6A8FFF", "#F9A05A"]}}
          }
        }
      ]
    }
  ],
  "config": {
    "font": "Noto Sans",
    "view": {"stroke": null},
    "scale": {"continuousPadding": 0}
  }
}
